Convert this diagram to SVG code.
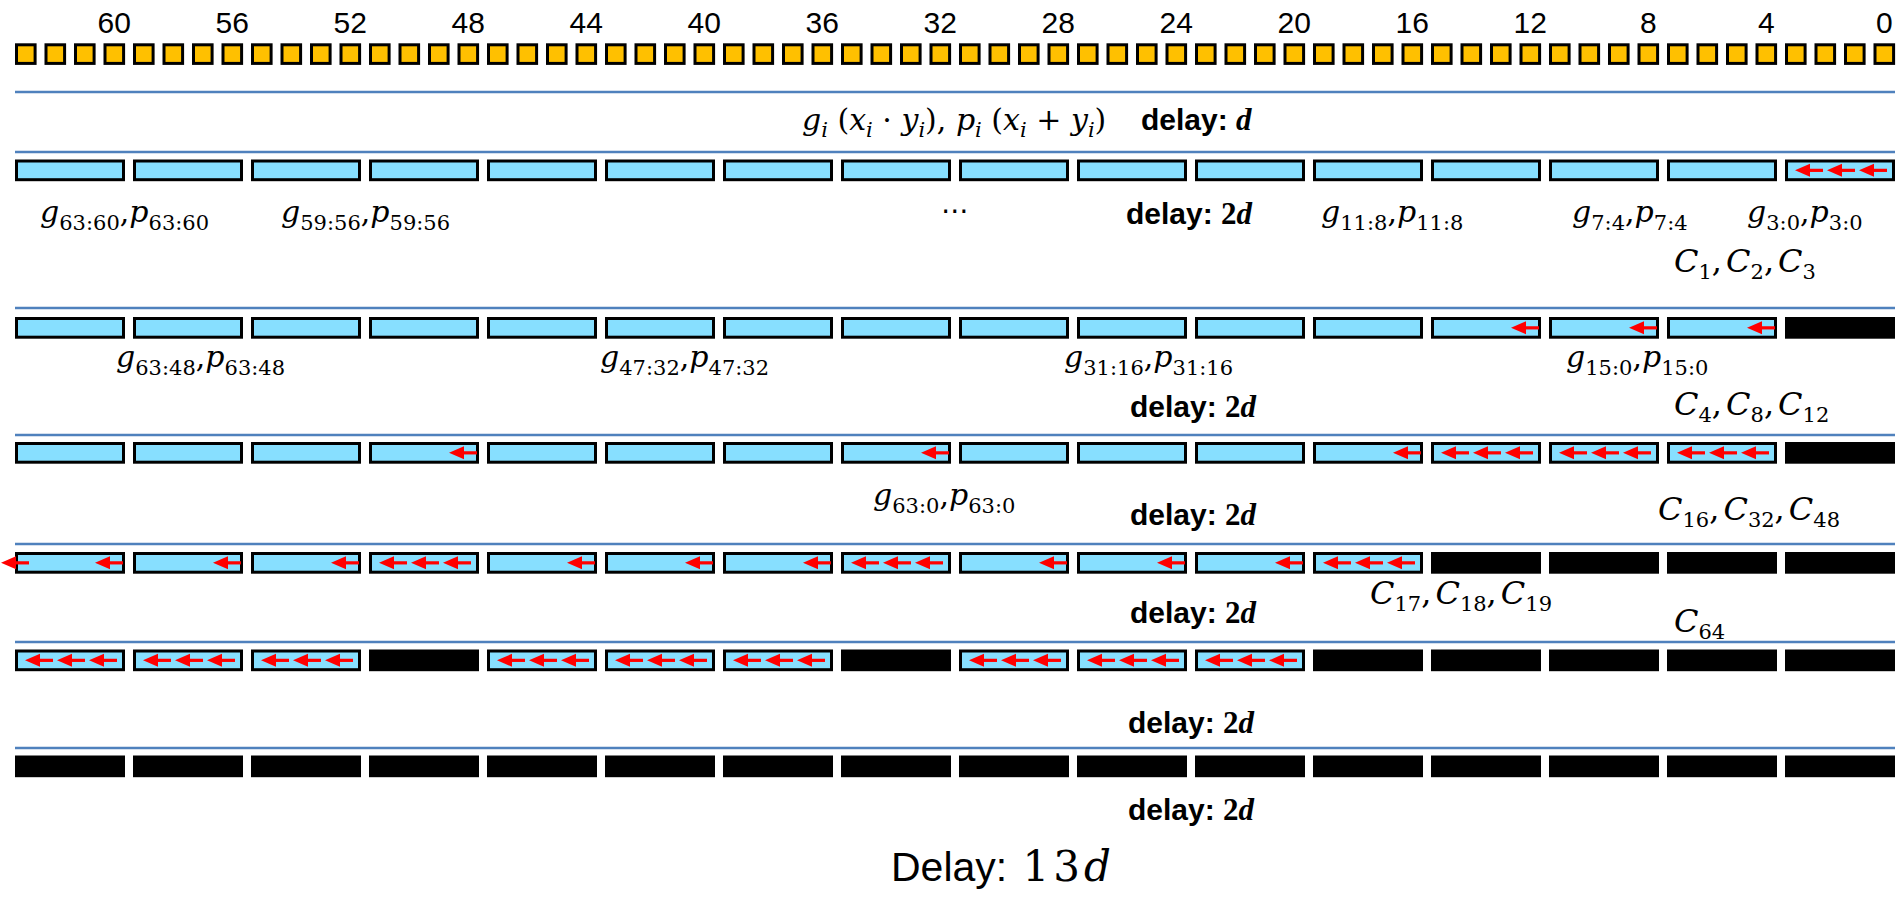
<svg xmlns="http://www.w3.org/2000/svg" width="1897" height="897" viewBox="0 0 1897 897">
<style>
.sq{fill:#FFC000;stroke:#000;stroke-width:3}
.bx{fill:#87DFFF;stroke:#000;stroke-width:3}
.bk{fill:#000;stroke:#000;stroke-width:3}
.ln{stroke:#4F81BD;stroke-width:2.5;fill:none}
.num{font-family:"Liberation Sans",Arial,sans-serif;font-size:30px;text-anchor:middle;fill:#000}
.dl{font-family:"Liberation Sans",Arial,sans-serif;font-weight:bold;font-size:30px;fill:#000}
.dm{font-family:"Liberation Serif",serif;font-weight:bold;font-size:31px}
.m{font-family:"DejaVu Serif","Liberation Serif",serif;font-weight:normal;font-size:30px;fill:#000}
.i{font-style:italic}
.s{font-size:21px}
.c{font-size:32px}
.cs{font-size:21px}
.big{font-family:"Liberation Sans",Arial,sans-serif;font-size:41px;fill:#000}
.bigm{font-family:"DejaVu Serif","Liberation Serif",serif;font-size:42px;letter-spacing:4px}
</style>
<defs>
<g id="ar"><polygon points="0,0 15,-6.5 15,6.5" fill="#FF0000"/><rect x="14" y="-1.6" width="14" height="3.2" fill="#FF0000"/></g>
<g id="ar3"><use href="#ar" x="0"/><use href="#ar" x="32"/><use href="#ar" x="64"/></g>
</defs>
<rect x="0" y="0" width="1897" height="897" fill="#fff"/>

<g id="bit-numbers">
<text class="num" x="114.3" y="33">60</text><text class="num" x="232.3" y="33">56</text><text class="num" x="350.3" y="33">52</text><text class="num" x="468.3" y="33">48</text><text class="num" x="586.3" y="33">44</text><text class="num" x="704.3" y="33">40</text><text class="num" x="822.3" y="33">36</text><text class="num" x="940.3" y="33">32</text><text class="num" x="1058.3" y="33">28</text><text class="num" x="1176.3" y="33">24</text><text class="num" x="1294.3" y="33">20</text><text class="num" x="1412.3" y="33">16</text><text class="num" x="1530.3" y="33">12</text><text class="num" x="1648.3" y="33">8</text><text class="num" x="1766.3" y="33">4</text><text class="num" x="1884.3" y="33">0</text>
</g>

<g id="bits">
<rect class="sq" x="16.5" y="44.8" width="18.6" height="18.6"/><rect class="sq" x="46" y="44.8" width="18.6" height="18.6"/><rect class="sq" x="75.5" y="44.8" width="18.6" height="18.6"/><rect class="sq" x="105" y="44.8" width="18.6" height="18.6"/><rect class="sq" x="134.5" y="44.8" width="18.6" height="18.6"/><rect class="sq" x="164" y="44.8" width="18.6" height="18.6"/><rect class="sq" x="193.5" y="44.8" width="18.6" height="18.6"/><rect class="sq" x="223" y="44.8" width="18.6" height="18.6"/><rect class="sq" x="252.5" y="44.8" width="18.6" height="18.6"/><rect class="sq" x="282" y="44.8" width="18.6" height="18.6"/><rect class="sq" x="311.5" y="44.8" width="18.6" height="18.6"/><rect class="sq" x="341" y="44.8" width="18.6" height="18.6"/><rect class="sq" x="370.5" y="44.8" width="18.6" height="18.6"/><rect class="sq" x="400" y="44.8" width="18.6" height="18.6"/><rect class="sq" x="429.5" y="44.8" width="18.6" height="18.6"/><rect class="sq" x="459" y="44.8" width="18.6" height="18.6"/>
<rect class="sq" x="488.5" y="44.8" width="18.6" height="18.6"/><rect class="sq" x="518" y="44.8" width="18.6" height="18.6"/><rect class="sq" x="547.5" y="44.8" width="18.6" height="18.6"/><rect class="sq" x="577" y="44.8" width="18.6" height="18.6"/><rect class="sq" x="606.5" y="44.8" width="18.6" height="18.6"/><rect class="sq" x="636" y="44.8" width="18.6" height="18.6"/><rect class="sq" x="665.5" y="44.8" width="18.6" height="18.6"/><rect class="sq" x="695" y="44.8" width="18.6" height="18.6"/><rect class="sq" x="724.5" y="44.8" width="18.6" height="18.6"/><rect class="sq" x="754" y="44.8" width="18.6" height="18.6"/><rect class="sq" x="783.5" y="44.8" width="18.6" height="18.6"/><rect class="sq" x="813" y="44.8" width="18.6" height="18.6"/><rect class="sq" x="842.5" y="44.8" width="18.6" height="18.6"/><rect class="sq" x="872" y="44.8" width="18.6" height="18.6"/><rect class="sq" x="901.5" y="44.8" width="18.6" height="18.6"/><rect class="sq" x="931" y="44.8" width="18.6" height="18.6"/>
<rect class="sq" x="960.5" y="44.8" width="18.6" height="18.6"/><rect class="sq" x="990" y="44.8" width="18.6" height="18.6"/><rect class="sq" x="1019.5" y="44.8" width="18.6" height="18.6"/><rect class="sq" x="1049" y="44.8" width="18.6" height="18.6"/><rect class="sq" x="1078.5" y="44.8" width="18.6" height="18.6"/><rect class="sq" x="1108" y="44.8" width="18.6" height="18.6"/><rect class="sq" x="1137.5" y="44.8" width="18.6" height="18.6"/><rect class="sq" x="1167" y="44.8" width="18.6" height="18.6"/><rect class="sq" x="1196.5" y="44.8" width="18.6" height="18.6"/><rect class="sq" x="1226" y="44.8" width="18.6" height="18.6"/><rect class="sq" x="1255.5" y="44.8" width="18.6" height="18.6"/><rect class="sq" x="1285" y="44.8" width="18.6" height="18.6"/><rect class="sq" x="1314.5" y="44.8" width="18.6" height="18.6"/><rect class="sq" x="1344" y="44.8" width="18.6" height="18.6"/><rect class="sq" x="1373.5" y="44.8" width="18.6" height="18.6"/><rect class="sq" x="1403" y="44.8" width="18.6" height="18.6"/>
<rect class="sq" x="1432.5" y="44.8" width="18.6" height="18.6"/><rect class="sq" x="1462" y="44.8" width="18.6" height="18.6"/><rect class="sq" x="1491.5" y="44.8" width="18.6" height="18.6"/><rect class="sq" x="1521" y="44.8" width="18.6" height="18.6"/><rect class="sq" x="1550.5" y="44.8" width="18.6" height="18.6"/><rect class="sq" x="1580" y="44.8" width="18.6" height="18.6"/><rect class="sq" x="1609.5" y="44.8" width="18.6" height="18.6"/><rect class="sq" x="1639" y="44.8" width="18.6" height="18.6"/><rect class="sq" x="1668.5" y="44.8" width="18.6" height="18.6"/><rect class="sq" x="1698" y="44.8" width="18.6" height="18.6"/><rect class="sq" x="1727.5" y="44.8" width="18.6" height="18.6"/><rect class="sq" x="1757" y="44.8" width="18.6" height="18.6"/><rect class="sq" x="1786.5" y="44.8" width="18.6" height="18.6"/><rect class="sq" x="1816" y="44.8" width="18.6" height="18.6"/><rect class="sq" x="1845.5" y="44.8" width="18.6" height="18.6"/><rect class="sq" x="1875" y="44.8" width="18.6" height="18.6"/>
</g>

<g id="stage-lines">
<line class="ln" x1="15" y1="92" x2="1895" y2="92"/>
<line class="ln" x1="15" y1="152" x2="1895" y2="152"/>
<line class="ln" x1="15" y1="308" x2="1895" y2="308"/>
<line class="ln" x1="15" y1="435" x2="1895" y2="435"/>
<line class="ln" x1="15" y1="544" x2="1895" y2="544"/>
<line class="ln" x1="15" y1="642" x2="1895" y2="642"/>
<line class="ln" x1="15" y1="748" x2="1895" y2="748"/>
</g>

<g id="row1">
<rect class="bx" x="16.5" y="161" width="107" height="18.7"/><rect class="bx" x="134.5" y="161" width="107" height="18.7"/><rect class="bx" x="252.5" y="161" width="107" height="18.7"/><rect class="bx" x="370.5" y="161" width="107" height="18.7"/><rect class="bx" x="488.5" y="161" width="107" height="18.7"/><rect class="bx" x="606.5" y="161" width="107" height="18.7"/><rect class="bx" x="724.5" y="161" width="107" height="18.7"/><rect class="bx" x="842.5" y="161" width="107" height="18.7"/><rect class="bx" x="960.5" y="161" width="107" height="18.7"/><rect class="bx" x="1078.5" y="161" width="107" height="18.7"/><rect class="bx" x="1196.5" y="161" width="107" height="18.7"/><rect class="bx" x="1314.5" y="161" width="107" height="18.7"/><rect class="bx" x="1432.5" y="161" width="107" height="18.7"/><rect class="bx" x="1550.5" y="161" width="107" height="18.7"/><rect class="bx" x="1668.5" y="161" width="107" height="18.7"/><rect class="bx" x="1786.5" y="161" width="107" height="18.7"/>
</g>
<g id="row2">
<rect class="bx" x="16.5" y="318.5" width="107" height="18.7"/><rect class="bx" x="134.5" y="318.5" width="107" height="18.7"/><rect class="bx" x="252.5" y="318.5" width="107" height="18.7"/><rect class="bx" x="370.5" y="318.5" width="107" height="18.7"/><rect class="bx" x="488.5" y="318.5" width="107" height="18.7"/><rect class="bx" x="606.5" y="318.5" width="107" height="18.7"/><rect class="bx" x="724.5" y="318.5" width="107" height="18.7"/><rect class="bx" x="842.5" y="318.5" width="107" height="18.7"/><rect class="bx" x="960.5" y="318.5" width="107" height="18.7"/><rect class="bx" x="1078.5" y="318.5" width="107" height="18.7"/><rect class="bx" x="1196.5" y="318.5" width="107" height="18.7"/><rect class="bx" x="1314.5" y="318.5" width="107" height="18.7"/><rect class="bx" x="1432.5" y="318.5" width="107" height="18.7"/><rect class="bx" x="1550.5" y="318.5" width="107" height="18.7"/><rect class="bx" x="1668.5" y="318.5" width="107" height="18.7"/><rect class="bk" x="1786.5" y="318.5" width="107" height="18.7"/>
</g>
<g id="row3">
<rect class="bx" x="16.5" y="443.5" width="107" height="18.7"/><rect class="bx" x="134.5" y="443.5" width="107" height="18.7"/><rect class="bx" x="252.5" y="443.5" width="107" height="18.7"/><rect class="bx" x="370.5" y="443.5" width="107" height="18.7"/><rect class="bx" x="488.5" y="443.5" width="107" height="18.7"/><rect class="bx" x="606.5" y="443.5" width="107" height="18.7"/><rect class="bx" x="724.5" y="443.5" width="107" height="18.7"/><rect class="bx" x="842.5" y="443.5" width="107" height="18.7"/><rect class="bx" x="960.5" y="443.5" width="107" height="18.7"/><rect class="bx" x="1078.5" y="443.5" width="107" height="18.7"/><rect class="bx" x="1196.5" y="443.5" width="107" height="18.7"/><rect class="bx" x="1314.5" y="443.5" width="107" height="18.7"/><rect class="bx" x="1432.5" y="443.5" width="107" height="18.7"/><rect class="bx" x="1550.5" y="443.5" width="107" height="18.7"/><rect class="bx" x="1668.5" y="443.5" width="107" height="18.7"/><rect class="bk" x="1786.5" y="443.5" width="107" height="18.7"/>
</g>
<g id="row4">
<rect class="bx" x="16.5" y="553.5" width="107" height="18.7"/><rect class="bx" x="134.5" y="553.5" width="107" height="18.7"/><rect class="bx" x="252.5" y="553.5" width="107" height="18.7"/><rect class="bx" x="370.5" y="553.5" width="107" height="18.7"/><rect class="bx" x="488.5" y="553.5" width="107" height="18.7"/><rect class="bx" x="606.5" y="553.5" width="107" height="18.7"/><rect class="bx" x="724.5" y="553.5" width="107" height="18.7"/><rect class="bx" x="842.5" y="553.5" width="107" height="18.7"/><rect class="bx" x="960.5" y="553.5" width="107" height="18.7"/><rect class="bx" x="1078.5" y="553.5" width="107" height="18.7"/><rect class="bx" x="1196.5" y="553.5" width="107" height="18.7"/><rect class="bx" x="1314.5" y="553.5" width="107" height="18.7"/><rect class="bk" x="1432.5" y="553.5" width="107" height="18.7"/><rect class="bk" x="1550.5" y="553.5" width="107" height="18.7"/><rect class="bk" x="1668.5" y="553.5" width="107" height="18.7"/><rect class="bk" x="1786.5" y="553.5" width="107" height="18.7"/>
</g>
<g id="row5">
<rect class="bx" x="16.5" y="651" width="107" height="18.7"/><rect class="bx" x="134.5" y="651" width="107" height="18.7"/><rect class="bx" x="252.5" y="651" width="107" height="18.7"/><rect class="bk" x="370.5" y="651" width="107" height="18.7"/><rect class="bx" x="488.5" y="651" width="107" height="18.7"/><rect class="bx" x="606.5" y="651" width="107" height="18.7"/><rect class="bx" x="724.5" y="651" width="107" height="18.7"/><rect class="bk" x="842.5" y="651" width="107" height="18.7"/><rect class="bx" x="960.5" y="651" width="107" height="18.7"/><rect class="bx" x="1078.5" y="651" width="107" height="18.7"/><rect class="bx" x="1196.5" y="651" width="107" height="18.7"/><rect class="bk" x="1314.5" y="651" width="107" height="18.7"/><rect class="bk" x="1432.5" y="651" width="107" height="18.7"/><rect class="bk" x="1550.5" y="651" width="107" height="18.7"/><rect class="bk" x="1668.5" y="651" width="107" height="18.7"/><rect class="bk" x="1786.5" y="651" width="107" height="18.7"/>
</g>
<g id="row6">
<rect class="bk" x="16.5" y="757" width="107" height="18.7"/><rect class="bk" x="134.5" y="757" width="107" height="18.7"/><rect class="bk" x="252.5" y="757" width="107" height="18.7"/><rect class="bk" x="370.5" y="757" width="107" height="18.7"/><rect class="bk" x="488.5" y="757" width="107" height="18.7"/><rect class="bk" x="606.5" y="757" width="107" height="18.7"/><rect class="bk" x="724.5" y="757" width="107" height="18.7"/><rect class="bk" x="842.5" y="757" width="107" height="18.7"/><rect class="bk" x="960.5" y="757" width="107" height="18.7"/><rect class="bk" x="1078.5" y="757" width="107" height="18.7"/><rect class="bk" x="1196.5" y="757" width="107" height="18.7"/><rect class="bk" x="1314.5" y="757" width="107" height="18.7"/><rect class="bk" x="1432.5" y="757" width="107" height="18.7"/><rect class="bk" x="1550.5" y="757" width="107" height="18.7"/><rect class="bk" x="1668.5" y="757" width="107" height="18.7"/><rect class="bk" x="1786.5" y="757" width="107" height="18.7"/>
</g>

<g id="connectors">
<use href="#ar3" x="1795" y="170.35"/>
<use href="#ar" x="1511" y="327.85"/><use href="#ar" x="1629" y="327.85"/><use href="#ar" x="1747" y="327.85"/>
<use href="#ar" x="449" y="452.85"/><use href="#ar" x="921" y="452.85"/><use href="#ar" x="1393" y="452.85"/>
<use href="#ar3" x="1441" y="452.85"/><use href="#ar3" x="1559" y="452.85"/><use href="#ar3" x="1677" y="452.85"/>
<use href="#ar" x="1" y="562.85"/>
<use href="#ar" x="95" y="562.85"/><use href="#ar" x="213" y="562.85"/><use href="#ar" x="331" y="562.85"/><use href="#ar" x="567" y="562.85"/><use href="#ar" x="685" y="562.85"/><use href="#ar" x="803" y="562.85"/><use href="#ar" x="1039" y="562.85"/><use href="#ar" x="1157" y="562.85"/><use href="#ar" x="1275" y="562.85"/>
<use href="#ar3" x="379" y="562.85"/><use href="#ar3" x="851" y="562.85"/><use href="#ar3" x="1323" y="562.85"/>
<use href="#ar3" x="25" y="660.35"/><use href="#ar3" x="143" y="660.35"/><use href="#ar3" x="261" y="660.35"/><use href="#ar3" x="497" y="660.35"/><use href="#ar3" x="615" y="660.35"/><use href="#ar3" x="733" y="660.35"/><use href="#ar3" x="969" y="660.35"/><use href="#ar3" x="1087" y="660.35"/><use href="#ar3" x="1205" y="660.35"/>
</g>

<g id="labels">
<text class="m" x="802" y="130"><tspan class="i">g</tspan><tspan class="s i" dy="7">i</tspan><tspan dy="-7"> (</tspan><tspan class="i">x</tspan><tspan class="s i" dy="7">i</tspan><tspan dy="-7"> · </tspan><tspan class="i">y</tspan><tspan class="s i" dy="7">i</tspan><tspan dy="-7">), </tspan><tspan class="i">p</tspan><tspan class="s i" dy="7">i</tspan><tspan dy="-7"> (</tspan><tspan class="i">x</tspan><tspan class="s i" dy="7">i</tspan><tspan dy="-7"> + </tspan><tspan class="i">y</tspan><tspan class="s i" dy="7">i</tspan><tspan dy="-7">)</tspan></text>
<text class="dl" x="1141" y="130">delay: <tspan class="dm i">d</tspan></text>

<text class="m" x="40" y="222"><tspan class="i">g</tspan><tspan class="s" dy="8">63:60</tspan><tspan dy="-8">,</tspan><tspan class="i">p</tspan><tspan class="s" dy="8">63:60</tspan></text>
<text class="m" x="281" y="222"><tspan class="i">g</tspan><tspan class="s" dy="8">59:56</tspan><tspan dy="-8">,</tspan><tspan class="i">p</tspan><tspan class="s" dy="8">59:56</tspan></text>
<text x="955" y="220" font-family="DejaVu Sans,sans-serif" font-size="28" text-anchor="middle">⋯</text>
<text class="dl" x="1126" y="224">delay: <tspan class="dm">2<tspan class="i">d</tspan></tspan></text>
<text class="m" x="1321" y="222"><tspan class="i">g</tspan><tspan class="s" dy="8">11:8</tspan><tspan dy="-8">,</tspan><tspan class="i">p</tspan><tspan class="s" dy="8">11:8</tspan></text>
<text class="m" x="1572" y="222"><tspan class="i">g</tspan><tspan class="s" dy="8">7:4</tspan><tspan dy="-8">,</tspan><tspan class="i">p</tspan><tspan class="s" dy="8">7:4</tspan></text>
<text class="m" x="1747" y="222"><tspan class="i">g</tspan><tspan class="s" dy="8">3:0</tspan><tspan dy="-8">,</tspan><tspan class="i">p</tspan><tspan class="s" dy="8">3:0</tspan></text>
<text class="m c" x="1674" y="272"><tspan class="i">C</tspan><tspan class="cs" dy="7">1</tspan><tspan dy="-7">,</tspan><tspan class="i" dx="4">C</tspan><tspan class="cs" dy="7">2</tspan><tspan dy="-7">,</tspan><tspan class="i" dx="4">C</tspan><tspan class="cs" dy="7">3</tspan></text>

<text class="m" x="116" y="367"><tspan class="i">g</tspan><tspan class="s" dy="8">63:48</tspan><tspan dy="-8">,</tspan><tspan class="i">p</tspan><tspan class="s" dy="8">63:48</tspan></text>
<text class="m" x="600" y="367"><tspan class="i">g</tspan><tspan class="s" dy="8">47:32</tspan><tspan dy="-8">,</tspan><tspan class="i">p</tspan><tspan class="s" dy="8">47:32</tspan></text>
<text class="m" x="1064" y="367"><tspan class="i">g</tspan><tspan class="s" dy="8">31:16</tspan><tspan dy="-8">,</tspan><tspan class="i">p</tspan><tspan class="s" dy="8">31:16</tspan></text>
<text class="m" x="1566" y="367"><tspan class="i">g</tspan><tspan class="s" dy="8">15:0</tspan><tspan dy="-8">,</tspan><tspan class="i">p</tspan><tspan class="s" dy="8">15:0</tspan></text>
<text class="dl" x="1130" y="417">delay: <tspan class="dm">2<tspan class="i">d</tspan></tspan></text>
<text class="m c" x="1674" y="415"><tspan class="i">C</tspan><tspan class="cs" dy="7">4</tspan><tspan dy="-7">,</tspan><tspan class="i" dx="4">C</tspan><tspan class="cs" dy="7">8</tspan><tspan dy="-7">,</tspan><tspan class="i" dx="4">C</tspan><tspan class="cs" dy="7">12</tspan></text>

<text class="m" x="873" y="505"><tspan class="i">g</tspan><tspan class="s" dy="8">63:0</tspan><tspan dy="-8">,</tspan><tspan class="i">p</tspan><tspan class="s" dy="8">63:0</tspan></text>
<text class="dl" x="1130" y="525">delay: <tspan class="dm">2<tspan class="i">d</tspan></tspan></text>
<text class="m c" x="1658" y="520"><tspan class="i">C</tspan><tspan class="cs" dy="7">16</tspan><tspan dy="-7">,</tspan><tspan class="i" dx="4">C</tspan><tspan class="cs" dy="7">32</tspan><tspan dy="-7">,</tspan><tspan class="i" dx="4">C</tspan><tspan class="cs" dy="7">48</tspan></text>

<text class="dl" x="1130" y="623">delay: <tspan class="dm">2<tspan class="i">d</tspan></tspan></text>
<text class="m c" x="1370" y="604"><tspan class="i">C</tspan><tspan class="cs" dy="7">17</tspan><tspan dy="-7">,</tspan><tspan class="i" dx="4">C</tspan><tspan class="cs" dy="7">18</tspan><tspan dy="-7">,</tspan><tspan class="i" dx="4">C</tspan><tspan class="cs" dy="7">19</tspan></text>
<text class="m c" x="1674" y="632"><tspan class="i">C</tspan><tspan class="cs" dy="7">64</tspan></text>

<text class="dl" x="1128" y="733">delay: <tspan class="dm">2<tspan class="i">d</tspan></tspan></text>
<text class="dl" x="1128" y="820">delay: <tspan class="dm">2<tspan class="i">d</tspan></tspan></text>
<text class="big" x="891" y="881">Delay: <tspan class="bigm" dx="4">13<tspan class="i">d</tspan></tspan></text>
</g>
</svg>
